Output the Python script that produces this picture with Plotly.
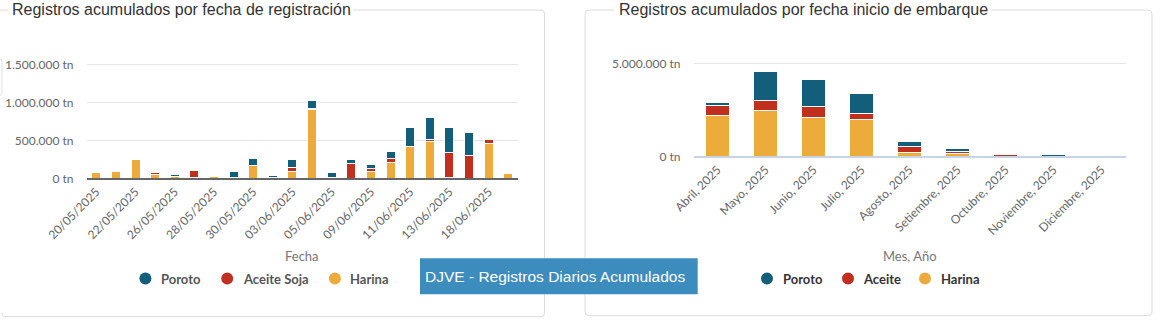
import plotly.graph_objects as go

W, H = 1170, 333

# ---------------- DATA ----------------
fechas = ["20/05/2025", "21/05/2025", "22/05/2025", "23/05/2025", "26/05/2025", "27/05/2025",
          "28/05/2025", "29/05/2025", "30/05/2025", "02/06/2025", "03/06/2025", "04/06/2025",
          "05/06/2025", "06/06/2025", "09/06/2025", "10/06/2025", "11/06/2025", "12/06/2025",
          "13/06/2025", "17/06/2025", "18/06/2025", "19/06/2025"]
reg_harina = [70000, 96000, 241000, 48000, 22000, 10000, 22000, 5000, 165000, 10000, 90000,
              900000, 10000, 0, 85000, 205000, 415000, 480000, 15000, 0, 452000, 57000]
reg_aceite = [0, 0, 0, 22000, 0, 87000, 20000, 0, 5000, 0, 58000,
              25000, 0, 192000, 40000, 50000, 5000, 30000, 330000, 295000, 65000, 0]
reg_poroto = [0, 0, 0, 0, 28000, 0, 0, 78000, 97000, 22000, 105000,
              105000, 62000, 60000, 62000, 92000, 242000, 285000, 317000, 314000, 0, 0]
fecha_ticks = fechas[::2]
reg_tickvals = [0, 500000, 1000000, 1500000]
reg_ticktext = ["0 tn", "500.000 tn", "1.000.000 tn", "1.500.000 tn"]

meses = ["Abril, 2025", "Mayo, 2025", "Junio, 2025", "Julio, 2025", "Agosto, 2025",
         "Setiembre, 2025", "Octubre, 2025", "Noviembre, 2025", "Diciembre, 2025"]
emb_harina = [2210000, 2480000, 2110000, 2000000, 230000, 130000, 0, 0, 0]
emb_aceite = [500000, 540000, 590000, 280000, 310000, 150000, 100000, 0, 0]
emb_poroto = [200000, 1550000, 1440000, 1120000, 230000, 160000, 0, 95000, 0]
emb_tickvals = [0, 5000000]
emb_ticktext = ["0 tn", "5.000.000 tn"]

C_POROTO = "#135E7B"
C_ACEITE = "#C1301F"
C_HARINA = "#EDAB3B"


def px(x):
    return x / W


def py(y):
    return 1 - y / H


def nz(vals):
    return [v if v else None for v in vals]


fig = go.Figure()

# left chart
for name, vals, col in [("Harina", reg_harina, C_HARINA), ("Aceite Soja", reg_aceite, C_ACEITE),
                        ("Poroto", reg_poroto, C_POROTO)]:
    fig.add_trace(go.Bar(x=fechas, y=nz(vals), name=name,
                         marker=dict(color=col, line=dict(color="white", width=1)),
                         width=0.46, xaxis="x", yaxis="y", showlegend=False))
# right chart
for name, vals, col in [("Harina", emb_harina, C_HARINA), ("Aceite", emb_aceite, C_ACEITE),
                        ("Poroto", emb_poroto, C_POROTO)]:
    fig.add_trace(go.Bar(x=meses, y=nz(vals), name=name,
                         marker=dict(color=col, line=dict(color="white", width=1)),
                         width=0.48, xaxis="x2", yaxis="y2", showlegend=False))

tickfont = dict(family="Lato", size=12, color="#666666")

L_X0, L_X1, L_Y0 = 86.5, 518, 178.3
L_PPX = 500000 / 38.0
L_MAX = 1650000
R_X0, R_X1, R_Y0 = 693.5, 1125.5, 156.3
R_PPX = 5000000 / 93.0
R_MAX = 5500000

fig.update_layout(
    template="none",
    width=W, height=H, margin=dict(l=0, r=0, t=0, b=0, autoexpand=False),
    paper_bgcolor="white", plot_bgcolor="white",
    barmode="stack", showlegend=False, hovermode="closest",
    xaxis=dict(domain=[px(L_X0), px(L_X1)], type="category", categoryorder="array", categoryarray=fechas,
               tickmode="array", tickvals=fecha_ticks, ticktext=fecha_ticks, tickangle=-45,
               tickfont=tickfont, showgrid=False, ticks="", range=[-0.5, len(fechas) - 0.5],
               showline=True, linecolor="#666666", linewidth=2, layer="above traces",
               fixedrange=True, automargin=False, zeroline=False),
    yaxis=dict(domain=[py(L_Y0), py(L_Y0 - L_MAX / L_PPX)], range=[0, L_MAX],
               tickmode="array", tickvals=reg_tickvals, ticktext=reg_ticktext, tickfont=tickfont,
               showgrid=True, gridcolor="#e6e6e6", gridwidth=1,
               zeroline=False, showline=False,
               ticks="", ticklabelstandoff=12, fixedrange=True, automargin=False),
    xaxis2=dict(domain=[px(R_X0), px(R_X1)], type="category", categoryorder="array", categoryarray=meses,
                tickangle=-45, tickfont=tickfont, showgrid=False, ticks="",
                showline=True, linecolor="#c6d4e8", linewidth=2, layer="above traces",
                range=[-0.5, len(meses) - 0.5], anchor="y2", fixedrange=True, automargin=False,
                zeroline=False),
    yaxis2=dict(domain=[py(R_Y0), py(R_Y0 - R_MAX / R_PPX)], range=[0, R_MAX], anchor="x2",
                tickmode="array", tickvals=emb_tickvals, ticktext=emb_ticktext, tickfont=tickfont,
                showgrid=True, gridcolor="#e6e6e6", gridwidth=1,
                zeroline=False, showline=False,
                ticks="", ticklabelstandoff=12, fixedrange=True, automargin=False),
)


def path(points, closed=False):
    s = ""
    for i, p in enumerate(points):
        if p[0] == "Q":
            s += f" Q {px(p[1])},{py(p[2])} {px(p[3])},{py(p[4])}"
        else:
            s += (" M " if i == 0 else " L ") + f"{px(p[0])},{py(p[1])}"
    return s.strip() + (" Z" if closed else "")


border = dict(color="#dcdcdc", width=1)
shapes = []
# left card
shapes.append(dict(type="path", xref="paper", yref="paper", line=border,
                   path=path([(0, 10), (8, 10)])))
shapes.append(dict(type="path", xref="paper", yref="paper", line=border,
                   path=path([(353, 10), (541, 10), ("Q", 544.5, 10, 544.5, 14), (544.5, 313),
                              ("Q", 544.5, 316.7, 541, 316.7), (5, 316.7), ("Q", 2, 316.7, 2, 313)])))
# faint partial element at left edge
shapes.append(dict(type="path", xref="paper", yref="paper", line=dict(color="#e2e2e2", width=1),
                   path=path([(0, 59), (2, 60), (2, 92), ("Q", 2, 95, 0, 95)])))
# right card
shapes.append(dict(type="path", xref="paper", yref="paper", line=border,
                   path=path([(614, 10), (589, 10), ("Q", 585, 10, 585, 14), (585, 312),
                              ("Q", 585, 315.7, 589, 315.7), (1148, 315.7), ("Q", 1152, 315.7, 1152, 312),
                              (1152, 14), ("Q", 1152, 10, 1148, 10), (992, 10)])))
# blue label box
shapes.append(dict(type="rect", xref="paper", yref="paper", x0=px(420), x1=px(697.7), y0=py(294.3), y1=py(258.3),
                   fillcolor="#3D8CBE", line=dict(width=0), layer="above"))

# manual legends (circle markers)
leg_left = [("Poroto", C_POROTO, 145.4, 159.4), ("Aceite Soja", C_ACEITE, 227.2, 240.5),
            ("Harina", C_HARINA, 334.9, 348.2)]
leg_right = [("Poroto", C_POROTO, 767, 780.5), ("Aceite", C_ACEITE, 848, 861),
             ("Harina", C_HARINA, 925, 939)]
LEG_Y = 278.5
annotations = []
for items, tcol in [(leg_left, "#555555"), (leg_right, "#333333")]:
    for name, col, cx, tx in items:
        shapes.append(dict(type="circle", xref="paper", yref="paper", x0=px(cx - 6), x1=px(cx + 6),
                           y0=py(LEG_Y + 6), y1=py(LEG_Y - 6), fillcolor=col, line=dict(width=0)))
        annotations.append(dict(text=name, x=px(tx), y=py(LEG_Y), xref="paper", yref="paper",
                                xanchor="left", yanchor="middle", showarrow=False,
                                font=dict(family="Lato", size=13, color=tcol, weight="bold")))

# titles
annotations.append(dict(text="Registros acumulados por fecha de registración", x=px(10), y=py(10),
                        xref="paper", yref="paper", xanchor="left", yanchor="middle", showarrow=False,
                        font=dict(family="Liberation Sans", size=16, color="#333333")))
annotations.append(dict(text="Registros acumulados por fecha inicio de embarque", x=px(617), y=py(10),
                        xref="paper", yref="paper", xanchor="left", yanchor="middle", showarrow=False,
                        font=dict(family="Liberation Sans", size=16, color="#333333")))
# axis titles
annotations.append(dict(text="Fecha", x=px((L_X0 + L_X1) / 2), y=py(256), xref="paper", yref="paper",
                        xanchor="center", yanchor="middle", showarrow=False,
                        font=dict(family="Lato", size=13, color="#777777")))
annotations.append(dict(text="Mes, Año", x=px((R_X0 + R_X1) / 2), y=py(255.7), xref="paper", yref="paper",
                        xanchor="center", yanchor="middle", showarrow=False,
                        font=dict(family="Lato", size=13, color="#777777")))
# blue box text
annotations.append(dict(text="DJVE - Registros Diarios Acumulados", x=px(423), y=py(276.3), xref="paper",
                        yref="paper", xanchor="left", yanchor="middle", showarrow=False,
                        font=dict(family="Liberation Sans", size=15.5, color="white")))

fig.update_layout(shapes=shapes, annotations=annotations)
fig.write_html("out.html")
